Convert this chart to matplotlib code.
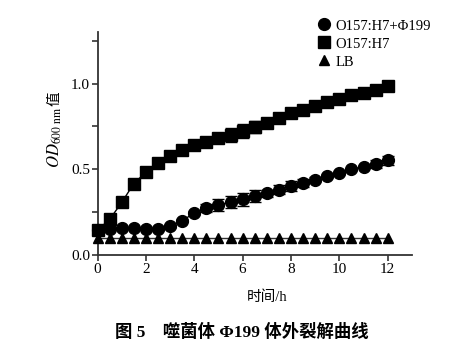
import matplotlib
matplotlib.use("Agg")
from matplotlib import pyplot as plt
from matplotlib.lines import Line2D
from matplotlib.ticker import MultipleLocator

plt.rcParams['font.family'] = ['Liberation Serif', 'Noto Sans CJK SC']
plt.rcParams['mathtext.fontset'] = 'stix'

# Data (time in h, OD600 values)
hours = [i * 0.5 for i in range(25)]
o157 = [0.145, 0.208, 0.307, 0.417, 0.483, 0.535, 0.575, 0.614, 0.640, 0.662,
        0.680, 0.699, 0.722, 0.747, 0.769, 0.798, 0.827, 0.846, 0.871, 0.890,
        0.910, 0.933, 0.944, 0.964, 0.983]
o157_err = [0, 0, 0, 0, 0, 0, 0, 0, 0.01, 0.015, 0.029, 0.039, 0.04, 0.037,
            0.029, 0.015, 0.01, 0.01, 0.01, 0.01, 0.01, 0.01, 0.01, 0.01, 0.01]
phage = [0.145, 0.151, 0.155, 0.155, 0.149, 0.151, 0.168, 0.201, 0.244, 0.274,
         0.294, 0.307, 0.324, 0.344, 0.359, 0.382, 0.401, 0.419, 0.440, 0.462,
         0.479, 0.500, 0.516, 0.531, 0.552]
phage_err = [0, 0, 0, 0, 0, 0.01, 0.01, 0.01, 0.012, 0.024, 0.035, 0.035, 0.038,
             0.034, 0.02, 0.027, 0.03, 0.025, 0.015, 0.01, 0.01, 0.01, 0.01,
             0.025, 0.025]
lb = [0.1] * 25
labels = ['O157:H7+Φ199', 'O157:H7', 'LB']

fig = plt.figure(figsize=(4.67, 3.6), dpi=100)
ax = fig.add_axes([0.209, 0.2917, 0.673, 0.619])

ax.plot(hours, lb, color='#333333', lw=1, marker='^', ms=7.5, mfc='black',
        mec='black', clip_on=False, zorder=3)
ax.errorbar(hours, o157, yerr=o157_err, color='black', lw=1, marker='s', ms=8,
            capsize=4, elinewidth=1, clip_on=False, zorder=4)
ax.errorbar(hours, phage, yerr=phage_err, color='black', lw=1, marker='o', ms=8.5,
            capsize=4, elinewidth=1, clip_on=False, zorder=5)

ax.set_xlim(0, 13)
ax.set_ylim(0, 1.3)
ax.xaxis.set_major_locator(MultipleLocator(2))
ax.yaxis.set_major_locator(MultipleLocator(0.5))
ax.yaxis.set_minor_locator(MultipleLocator(0.25))
ax.yaxis.set_major_formatter(matplotlib.ticker.FormatStrFormatter('%.1f'))
ax.tick_params(axis='both', which='both', direction='out', length=4, width=1.2,
               labelsize=11, pad=1.5, color='#333333')
for side in ['top', 'right']:
    ax.spines[side].set_visible(False)
for side in ['left', 'bottom']:
    ax.spines[side].set_linewidth(1.3)
    ax.spines[side].set_color('#333333')

# axis labels
fig.text(267 / 467, 1 - 297 / 360, '时间/h', ha='center', va='center', fontsize=10.5)
od = fig.text(55 / 467, 1 - 168 / 360, r'$\mathit{OD}_{\mathrm{600\ nm}}$',
              rotation=90, ha='center', va='bottom', fontsize=12)
# the 值 sits right after the subscript, so hang it off the end of that text
fig.add_artist(matplotlib.text.Annotation('值', xy=(0.5, 1.0), xycoords=od,
                                          xytext=(0, 1), textcoords='offset points',
                                          rotation=90, ha='center', va='bottom',
                                          fontsize=10.5))

# legend with markers only
handles = [Line2D([], [], ls='none', marker='o', ms=8.5, color='black'),
           Line2D([], [], ls='none', marker='s', ms=8, color='black'),
           Line2D([], [], ls='none', marker='^', ms=7.5, color='black')]
ax.legend(handles, labels, loc='upper left', bbox_to_anchor=(311 / 467, 1 - 12 / 360),
          bbox_transform=fig.transFigure, frameon=False, fontsize=10.5,
          handlelength=0.8, handletextpad=0.4, labelspacing=0.33, borderpad=0)

# caption
fig.text(242 / 467, 1 - 332 / 360, '图 5    噬菌体 Φ199 体外裂解曲线', ha='center',
         va='center', fontsize=12.5, fontweight='bold')

fig.savefig('out.png', dpi=100)
